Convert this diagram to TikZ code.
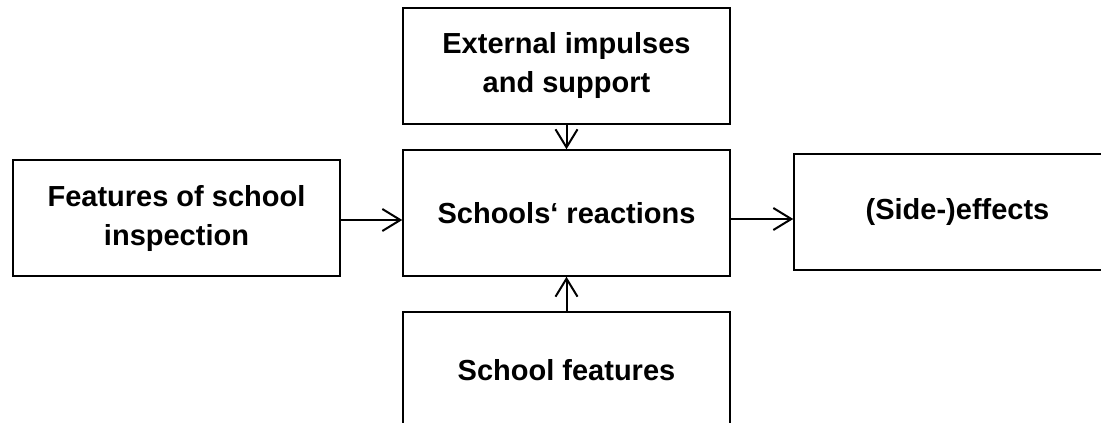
\documentclass[tikz,border=0pt]{standalone}
\usepackage{fontspec}
\setmainfont{Liberation Sans}
\usetikzlibrary{arrows.meta,positioning}
\tikzset{
  arr/.style={-{Straight Barb[length=18pt,width=22pt]},line width=2pt},
  box/.style={draw,line width=1.5pt,minimum width=327pt,align=center,
    font=\fontsize{29}{39}\selectfont\bfseries,inner sep=0pt}
}
\begin{document}
\begin{tikzpicture}[x=1pt,y=-1pt]
  \useasboundingbox (0,0) rectangle (1101,423);
  \clip (0,0) rectangle (1101,423);
  \node[box,minimum height=126pt] (react) at (566.5,213) {Schools‘ reactions};
  \node[box,minimum height=116pt] (ext) at (566.5,66) {External impulses\\and support};
  \node[box,minimum height=116pt] (insp) at (176.5,218) {Features of school\\inspection};
  \node[box,minimum height=116pt] (effects) at (957.5,212) {(Side-)effects};
  \node[box,minimum height=116pt] (school) at (566.5,370) {School features};
  \draw[arr] (ext) -- (react);
  \draw[arr] (school) -- (react);
  \draw[arr] ([yshift=-2pt]insp.east) -- ([yshift=-2pt]insp.east -| react.west);
  \draw[arr] ([yshift=-6pt]react.east) -- ([yshift=-6pt]react.east -| effects.west);
\end{tikzpicture}
\end{document}
